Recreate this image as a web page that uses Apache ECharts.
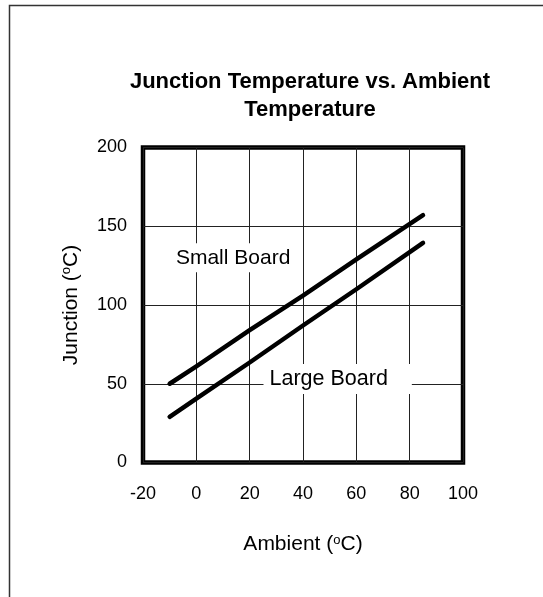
<!DOCTYPE html>
<html>
<head>
<meta charset="utf-8">
<script src="https://cdn.jsdelivr.net/npm/echarts@6/dist/echarts.min.js"></script>
<style>html,body{margin:0;padding:0;background:#fff;}#c{width:543px;height:597px;}</style>
</head>
<body>
<div id="c"></div>
<script>
var ambient = [-10, 0, 20, 40, 60, 85];
var smallBoard = [50, 61, 84, 106, 129, 157];
var largeBoard = [29, 40.5, 63.5, 87, 110, 139.5];
var xTicks = [-20, 0, 20, 40, 60, 80, 100];
var yTicks = [0, 50, 100, 150, 200];

function pairs(xs, ys) { return xs.map(function (x, i) { return [x, ys[i]]; }); }

var chart = echarts.init(document.getElementById('c'), null, { renderer: 'canvas' });
var font = '"Liberation Sans", Arial, Helvetica, sans-serif';
var supStyle = { fontSize: 13, verticalAlign: 'top', padding: [0, 0, 9, 0], fontFamily: font, color: '#000' };
chart.setOption({
  animation: false,
  backgroundColor: '#fff',
  graphic: [{
    type: 'rect', shape: { x: 9.5, y: 5.5, width: 700, height: 800 },
    style: { fill: 'none', stroke: '#333', lineWidth: 1.5 }, silent: true
  }],
  title: {
    text: 'Junction Temperature vs. Ambient\nTemperature',
    left: 305, top: 63, textAlign: 'center',
    textStyle: { fontFamily: font, fontSize: 22, fontWeight: 'bold', color: '#000', lineHeight: 28 }
  },
  grid: { left: 143, top: 147.5, width: 320, height: 315, show: true, borderColor: '#000', borderWidth: 4.5, backgroundColor: 'transparent' },
  xAxis: {
    type: 'value', min: -20, max: 100, interval: 20,
    name: 'Ambient ({s|o}C)', nameLocation: 'middle', nameGap: 71,
    nameTextStyle: { fontFamily: font, fontSize: 21, color: '#000', rich: { s: supStyle } },
    axisLine: { show: false }, axisTick: { show: false },
    axisLabel: { fontFamily: font, fontSize: 18, color: '#000', margin: 23, formatter: function (v) { return xTicks.indexOf(v) >= 0 ? String(v) : ''; } },
    splitLine: { show: true, lineStyle: { color: '#222', width: 1 } }
  },
  yAxis: {
    type: 'value', min: 0, max: 200, interval: 50,
    name: 'Junction ({s|o}C)', nameLocation: 'middle', nameGap: 61, nameRotate: 90,
    nameTextStyle: { fontFamily: font, fontSize: 21, color: '#000', rich: { s: supStyle } },
    axisLine: { show: false }, axisTick: { show: false },
    axisLabel: { fontFamily: font, fontSize: 18, color: '#000', margin: 16, formatter: function (v) { return yTicks.indexOf(v) >= 0 ? String(v) : ''; } },
    splitLine: { show: true, lineStyle: { color: '#222', width: 1 } }
  },
  series: [
    {
      type: 'line', name: 'Small Board', data: pairs(ambient, smallBoard), showSymbol: false, symbol: 'none',
      lineStyle: { color: '#000', width: 4.5, cap: 'round', join: 'round' }, z: 5,
      markPoint: {
        symbol: 'rect', symbolSize: 0,
        data: [{ coord: [13.8, 130], value: 'Small Board' }],
        label: { show: true, position: 'inside', formatter: 'Small Board', fontFamily: font, fontSize: 21, color: '#000', backgroundColor: '#fff', padding: [4, 4, 4, 4] }
      }
    },
    {
      type: 'line', name: 'Large Board', data: pairs(ambient, largeBoard), showSymbol: false, symbol: 'none',
      lineStyle: { color: '#000', width: 4.5, cap: 'round', join: 'round' }, z: 5,
      markPoint: {
        symbol: 'rect', symbolSize: 0,
        data: [{ coord: [53, 53], value: 'Large Board' }],
        label: { show: true, position: 'inside', formatter: 'Large Board', fontFamily: font, fontSize: 21.5, color: '#000', backgroundColor: '#fff', padding: [4, 24, 4, 6] }
      }
    }
  ]
});
</script>
</body>
</html>
